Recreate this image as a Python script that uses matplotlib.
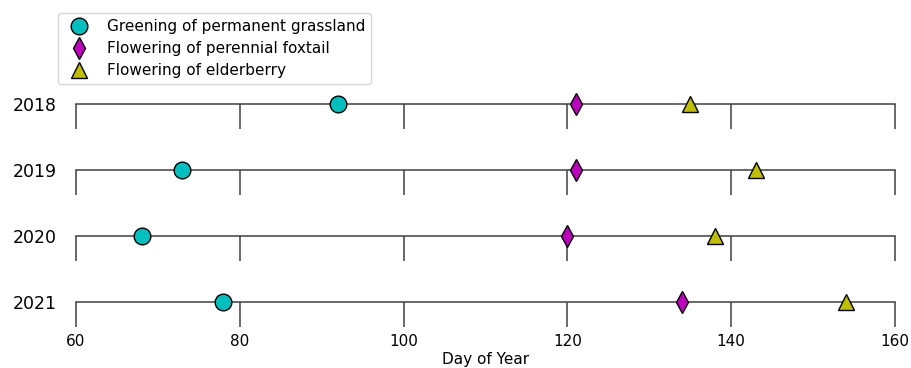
import matplotlib.pyplot as plt
from matplotlib.lines import Line2D

years = ['2018', '2019', '2020', '2021']
greening = [92, 73, 68, 78]
foxtail = [121, 121, 120, 134]
elderberry = [135, 143, 138, 154]
xticks = [60, 80, 100, 120, 140, 160]

series = [
    ('Greening of permanent grassland', greening, 'o', 'c', 12),
    ('Flowering of perennial foxtail', foxtail, 'd', 'm', 11),
    ('Flowering of elderberry', elderberry, '^', 'y', 11.5),
]

fig = plt.figure(figsize=(9.12, 3.68), dpi=100)

left, right = 76 / 912, 895 / 912
row_h = 25 / 368
tops = [104, 170, 236, 302]

for i, year in enumerate(years):
    y0 = 1 - (tops[i] + 25) / 368
    ax = fig.add_axes([left, y0, right - left, row_h])
    ax.set_xlim(60, 160)
    ax.set_ylim(0, 1)
    for side in ['left', 'right', 'bottom']:
        ax.spines[side].set_visible(False)
    ax.spines['top'].set_color('#404040')
    ax.spines['top'].set_linewidth(1.1)
    ax.set_xticks(xticks)
    ax.tick_params(axis='x', direction='in', length=18, width=1.1,
                   color='#404040', labelsize=11, pad=5)
    if i < len(years) - 1:
        ax.set_xticklabels([])
    else:
        ax.set_xlabel('Day of Year', fontsize=11, labelpad=2)
    ax.set_yticks([1])
    ax.set_yticklabels([year], fontsize=12.5)
    ax.tick_params(axis='y', length=0, pad=14)
    for label, vals, marker, color, ms in series:
        ax.plot(vals[i], 1, marker=marker, color=color, markersize=ms,
                markeredgecolor='black', markeredgewidth=1.0,
                linestyle='none', clip_on=False, zorder=5)

handles = [Line2D([], [], marker=m, color=c, markersize=ms, linestyle='none',
                  markeredgecolor='black', markeredgewidth=1.0)
           for _, _, m, c, ms in series]
labels = [s[0] for s in series]
fig.legend(handles, labels, loc='upper left', bbox_to_anchor=(58 / 912, 1 - 13 / 368),
           fontsize=11, labelspacing=0.45, borderaxespad=0, frameon=True)

fig.savefig('out.png', dpi=100)
